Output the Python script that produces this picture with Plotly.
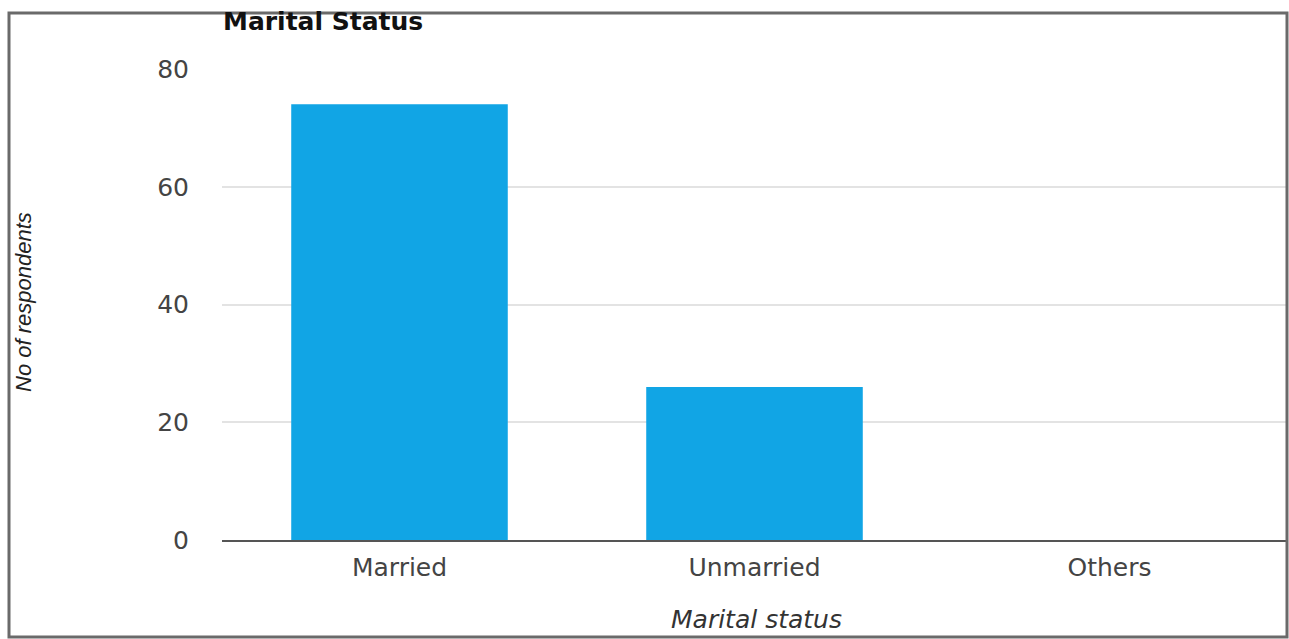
import plotly.graph_objects as go

categories = ["Married", "Unmarried", "Others"]
respondents = [74, 26, 0]
y_ticks = [0, 20, 40, 60, 80]

W, H = 1289, 639
L, R, T, B = 222, 2, 69, 99
pw, ph = W - L - R, H - T - B


def px_x(x):
    return (x - L) / pw


def px_y(y):
    return (H - B - y) / ph


fig = go.Figure(
    go.Bar(
        x=categories,
        y=respondents,
        marker=dict(color="#11a5e5", line=dict(width=0)),
        width=0.61,
    )
)

wide = "DejaVu Sans, Verdana, sans-serif"

fig.update_layout(
    width=W,
    height=H,
    margin=dict(l=L, r=R, t=T, b=B),
    paper_bgcolor="white",
    plot_bgcolor="white",
    showlegend=False,
    xaxis=dict(
        showgrid=False,
        showline=True,
        linecolor="#555555",
        linewidth=2,
        tickfont=dict(family=wide, size=25, color="#444444"),
        ticklabelstandoff=4,
        fixedrange=True,
    ),
    yaxis=dict(
        range=[0, 80],
        tickvals=y_ticks,
        showgrid=True,
        gridcolor="#e3e3e3",
        gridwidth=2,
        zeroline=False,
        showline=False,
        tickfont=dict(family=wide, size=25, color="#444444"),
        ticklabelstandoff=32,
        fixedrange=True,
    ),
    annotations=[
        dict(
            text="<b>Marital Status</b>",
            xref="paper", yref="paper",
            x=px_x(221), y=px_y(21),
            xanchor="left", yanchor="middle",
            showarrow=False,
            font=dict(family=wide, size=25, color="#111111"),
        ),
        dict(
            text="<i>No of respondents</i>",
            xref="paper", yref="paper",
            x=px_x(23), y=px_y(302),
            xanchor="center", yanchor="middle",
            textangle=-90,
            showarrow=False,
            font=dict(family="Liberation Sans, Arial, sans-serif", size=22, color="#222222"),
        ),
        dict(
            text="<i>Marital status</i>",
            xref="paper", yref="paper",
            x=px_x(756), y=px_y(603),
            xanchor="center", yanchor="top",
            showarrow=False,
            font=dict(family=wide, size=25, color="#333333"),
        ),
    ],
    shapes=[
        dict(
            type="rect",
            xref="paper", yref="paper",
            x0=px_x(9), x1=px_x(1287),
            y0=px_y(637), y1=px_y(13),
            line=dict(color="#6a6a6a", width=3),
            fillcolor="rgba(0,0,0,0)",
            layer="above",
        )
    ],
)

fig.write_html("out.html")
